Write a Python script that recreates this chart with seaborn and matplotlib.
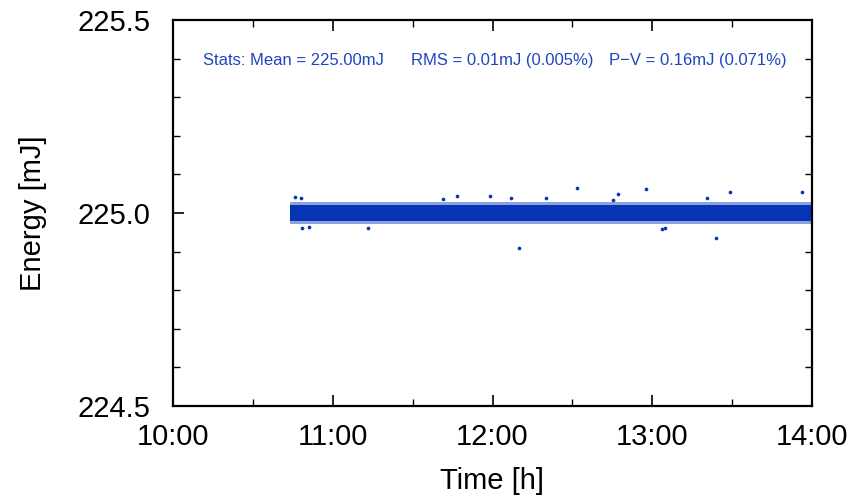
import numpy as np
import pandas as pd
import matplotlib
matplotlib.use("Agg")
import matplotlib.pyplot as plt
import seaborn as sns
from matplotlib.ticker import MultipleLocator, FuncFormatter

# ---- data ----
band_time = [10.73, 14.0]            # hours: start/end of the measurement band
band_core_low = [224.980, 224.980]     # dense core of the pulse-energy band
band_core_high = [225.020, 225.020]
band_outer_low = [224.972, 224.972]    # sparse speckled margin
band_outer_high = [225.028, 225.028]

outlier_time = [10.764, 10.80, 10.807, 10.851, 11.221, 11.690, 11.778, 11.984,
                12.116, 12.166, 12.335, 12.529, 12.754, 12.786, 12.961, 13.061,
                13.080, 13.343, 13.399, 13.487, 13.937]
outlier_energy = [225.041, 225.039, 224.961, 224.964, 224.961, 225.036, 225.044,
                  225.044, 225.039, 224.909, 225.039, 225.065, 225.034, 225.049,
                  225.062, 224.959, 224.961, 225.039, 224.935, 225.054, 225.054]

stats_texts = ["Stats: Mean = 225.00mJ", "RMS = 0.01mJ (0.005%)", "P\u2212V = 0.16mJ (0.071%)"]
x_ticks = [10, 11, 12, 13, 14]
y_ticks = [224.5, 225.0, 225.5]

COLOR = "#0634b4"
TEXT_BLUE = "#1e46c0"

sns.set_theme(style="ticks")
plt.rcParams["font.family"] = ["Liberation Sans", "DejaVu Sans"]
plt.rcParams["text.color"] = "black"
plt.rcParams["axes.labelcolor"] = "black"
plt.rcParams["xtick.color"] = "black"
plt.rcParams["ytick.color"] = "black"

fig = plt.figure(figsize=(8.64, 5.01), dpi=100)
ax = fig.add_axes([173 / 864, 1 - 406 / 501, (812 - 173) / 864, (406 - 20) / 501])

ax.fill_between(band_time, band_outer_low, band_outer_high, color=COLOR, alpha=0.45, lw=0)
ax.fill_between(band_time, band_core_low, band_core_high, color=COLOR, alpha=1.0, lw=0)

df = pd.DataFrame({"time": outlier_time, "energy": outlier_energy})
sns.scatterplot(data=df, x="time", y="energy", ax=ax, color=COLOR, s=7,
                linewidth=0, legend=False)

ax.set_xlim(10, 14)
ax.set_ylim(224.5, 225.5)
ax.xaxis.set_major_locator(MultipleLocator(1))
ax.xaxis.set_minor_locator(MultipleLocator(0.5))
ax.yaxis.set_major_locator(MultipleLocator(0.5))
ax.yaxis.set_minor_locator(MultipleLocator(0.1))
ax.set_xticks(x_ticks)
ax.set_yticks(y_ticks)
ax.xaxis.set_major_formatter(FuncFormatter(lambda v, p: f"{int(round(v))}:00"))
ax.yaxis.set_major_formatter(FuncFormatter(lambda v, p: f"{v:.1f}"))

ax.tick_params(which="both", direction="in", top=True, right=True, color="black",
               labelcolor="black")
ax.tick_params(which="major", length=8, width=1.2, labelsize=21)
ax.tick_params(axis="x", which="major", pad=12)
ax.tick_params(axis="y", which="major", pad=16)
ax.tick_params(which="minor", length=5, width=1.0)
for s in ax.spines.values():
    s.set_linewidth(1.6)
    s.set_color("black")

ax.set_xlabel("Time [h]", fontsize=21, labelpad=12, color="black")
ax.set_ylabel("Energy [mJ]", fontsize=21, labelpad=22, color="black")

xs = [10.19, 11.49, 12.73]
for x, t in zip(xs, stats_texts):
    ax.text(x, 225.396, t, color=TEXT_BLUE, fontsize=12, ha="left", va="center")

fig.savefig("out.png", dpi=100)
